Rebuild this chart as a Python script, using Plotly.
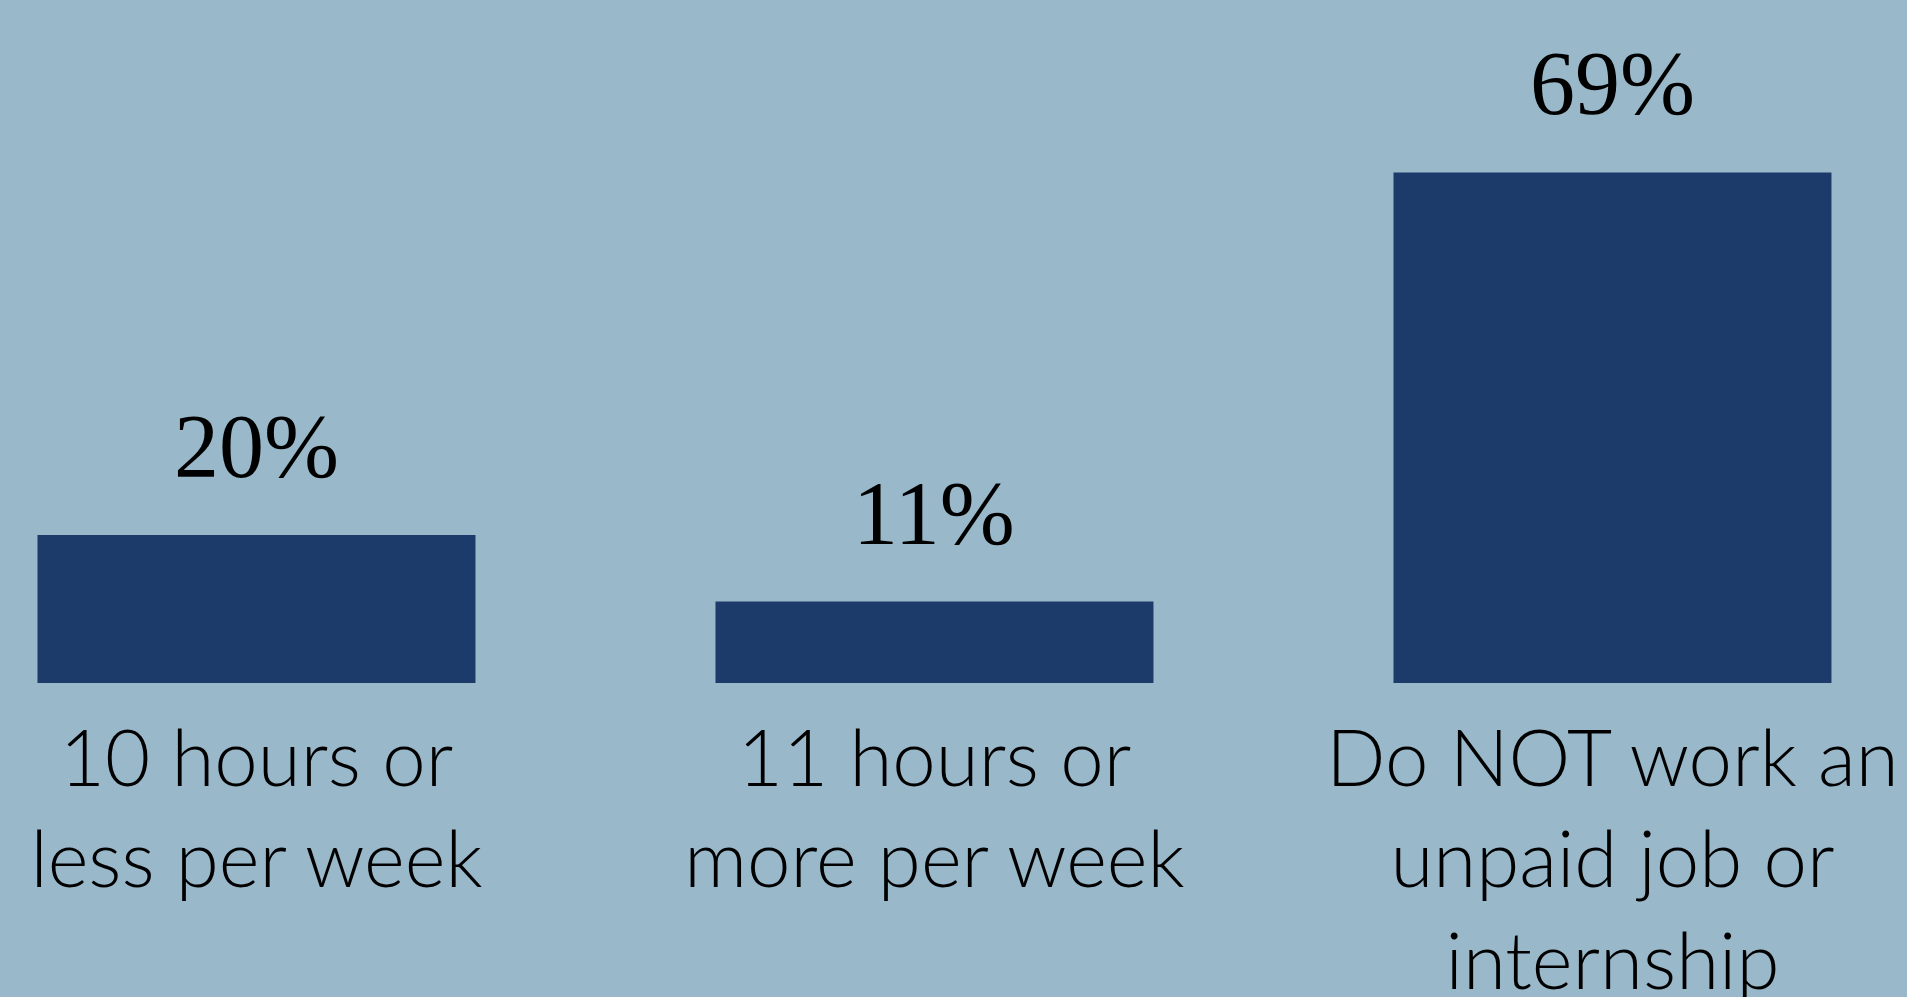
import plotly.graph_objects as go

categories = ["10 hours or<br>less per week", "11 hours or<br>more per week", "Do NOT work an<br>unpaid job or<br>internship"]
values = [20, 11, 69]
value_labels = ["20%", "11%", "69%"]

BG = "#99b8ca"
BAR = "#1c3b6b"

xs = list(range(len(categories)))

fig = go.Figure()
fig.add_trace(go.Bar(
    x=xs, y=values, width=0.646,
    marker=dict(color=BAR, line=dict(width=0)),
    hoverinfo="skip",
))

for x, v, t in zip(xs, values, value_labels):
    fig.add_annotation(
        x=x, y=v, text=t, showarrow=False,
        xanchor="center", yanchor="bottom", yshift=37,
        font=dict(family="Liberation Serif", size=90, color="#000000"),
    )

fig.update_layout(
    width=1907, height=997,
    margin=dict(l=0, r=0, t=0, b=314, pad=0, autoexpand=False),
    paper_bgcolor=BG, plot_bgcolor=BG,
    showlegend=False,
    xaxis=dict(
        range=[-0.3783, 2.4344],
        tickmode="array", tickvals=xs, ticktext=categories,
        showgrid=False, zeroline=False, showline=False, ticks="",
        tickfont=dict(family="Lato", size=78, color="#000000", weight=300),
        ticklabelstandoff=24,
        automargin=False,
        fixedrange=True,
    ),
    yaxis=dict(
        range=[0, 92.3], visible=False, showgrid=False, zeroline=False,
        automargin=False,
        fixedrange=True,
    ),
)

fig.write_html(
    "out.html",
    config={"displayModeBar": False},
    post_script="document.body.style.margin='0px';document.body.style.background='%s';" % BG,
)
